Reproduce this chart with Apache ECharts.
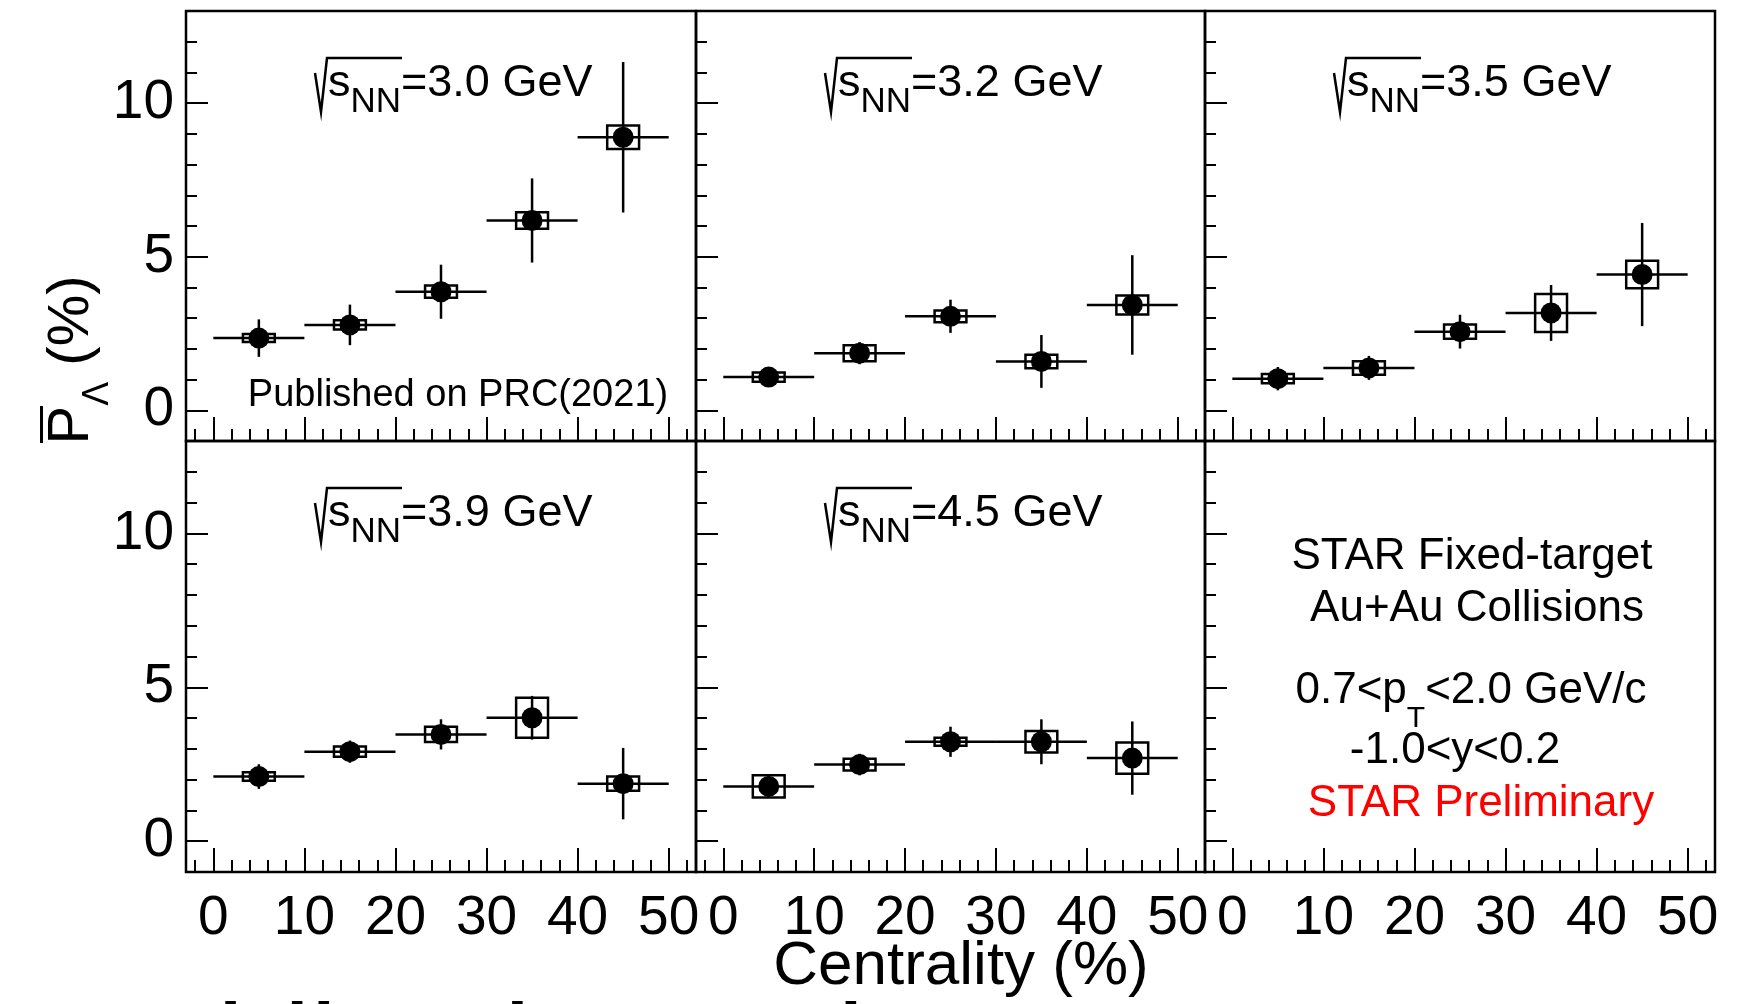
<!DOCTYPE html>
<html>
<head>
<meta charset="utf-8">
<title>Anti-Lambda polarization vs centrality</title>
<style>
    html, body { margin: 0; padding: 0; background: #fff; }
    #chart { width: 1761px; height: 1004px; }
</style>
<script src="https://cdn.jsdelivr.net/npm/echarts@6.0.0/dist/echarts.min.js"></script>
</head>
<body>
<div id="chart"></div>
<script>
// Centrality bins (%)
const binLow = [0, 10, 20, 30, 40];
const binHigh = [10, 20, 30, 40, 50];
const energies = ['3.0', '3.2', '3.5', '3.9', '4.5'];

// Polarization (%) with stat. and sys. errors, one set per energy
const pol30 = [2.35, 2.78, 3.86, 6.18, 8.89];
const stat30 = [0.61, 0.66, 0.88, 1.37, 2.45];
const sys30 = [0.13, 0.15, 0.20, 0.27, 0.38];

const pol32 = [1.08, 1.86, 3.06, 1.59, 3.43];
const stat32 = [0.32, 0.36, 0.54, 0.86, 1.62];
const sys32 = [0.15, 0.26, 0.19, 0.22, 0.31];

const pol35 = [1.03, 1.38, 2.56, 3.17, 4.42];
const stat35 = [0.38, 0.39, 0.55, 0.91, 1.68];
const sys35 = [0.15, 0.22, 0.23, 0.62, 0.45];

const pol39 = [2.10, 2.91, 3.47, 4.01, 1.87];
const stat39 = [0.40, 0.36, 0.49, 0.71, 1.16];
const sys39 = [0.14, 0.17, 0.25, 0.65, 0.23];

const pol45 = [1.78, 2.49, 3.23, 3.23, 2.70];
const stat45 = [0.34, 0.35, 0.49, 0.73, 1.19];
const sys45 = [0.36, 0.19, 0.13, 0.35, 0.51];

// Tick positions
const xMajorTicks = [0, 10, 20, 30, 40, 50];
const xMinorTicks = [-2, 0, 2, 4, 6, 8, 10, 12, 14, 16, 18, 20, 22, 24, 26, 28, 30, 32, 34, 36, 38, 40, 42, 44, 46, 48, 50, 52];
const yMajorTicks = [0, 5, 10];
const yMinorTicks = [0, 1, 2, 3, 4, 5, 6, 7, 8, 9, 10, 11, 12];

const panelPol = [pol30, pol32, pol35, pol39, pol45];
const panelStat = [stat30, stat32, stat35, stat39, stat45];
const panelSys = [sys30, sys32, sys35, sys39, sys45];

// Layout
const colLeft = [186, 696, 1205];
const colWidth = [510, 509, 510];
const rowTop = [11, 441];
const rowHeight = [430, 431];
const font = 'Liberation Sans, Arial, Helvetica, sans-serif';
const boxHalf = 1.75; // half width of the systematic box, in centrality units

const chart = echarts.init(document.getElementById('chart'), null, { renderer: 'canvas' });

function renderErrors(params, api) {
    const xc = api.value(0);
    const y = api.value(1);
    const stat = api.value(2);
    const sys = api.value(3);
    const left = api.coord([api.value(4), y]);
    const right = api.coord([api.value(5), y]);
    const top = api.coord([xc, y + stat]);
    const bottom = api.coord([xc, y - stat]);
    const b1 = api.coord([xc - boxHalf, y + sys]);
    const b2 = api.coord([xc + boxHalf, y - sys]);
    const lineStyle = { stroke: '#000', lineWidth: 2.5 };
    return {
        type: 'group',
        children: [
            { type: 'line', shape: { x1: left[0], y1: left[1], x2: right[0], y2: right[1] }, style: lineStyle },
            { type: 'line', shape: { x1: top[0], y1: top[1], x2: bottom[0], y2: bottom[1] }, style: lineStyle },
            {
                type: 'rect',
                shape: { x: b1[0], y: b1[1], width: b2[0] - b1[0], height: b2[1] - b1[1] },
                style: { stroke: '#000', lineWidth: 2.5, fill: 'none' }
            }
        ]
    };
}

const grids = [];
const xAxes = [];
const yAxes = [];
const series = [];
const graphics = [];

for (let i = 0; i < 6; i++) {
    const r = Math.floor(i / 3);
    const c = i % 3;
    grids.push({
        left: colLeft[c], top: rowTop[r], width: colWidth[c], height: rowHeight[r],
        containLabel: false, outerBoundsMode: 'none',
        show: true, borderColor: '#000', borderWidth: 2.5, backgroundColor: 'transparent'
    });

    const tickStyle = { color: '#000', width: 2 };
    // major x ticks + labels
    xAxes.push({
        type: 'value', gridIndex: i, position: 'bottom', min: -3, max: 53,
        axisLine: { show: false, onZero: false },
        splitLine: { show: false },
        axisTick: { show: true, inside: true, length: 24, customValues: xMajorTicks, lineStyle: tickStyle },
        axisLabel: {
            show: r === 1, customValues: xMajorTicks, margin: 19,
            fontSize: 55, color: '#000', fontFamily: font
        }
    });
    // minor x ticks
    xAxes.push({
        type: 'value', gridIndex: i, position: 'bottom', min: -3, max: 53,
        axisLine: { show: false, onZero: false },
        splitLine: { show: false },
        axisTick: { show: true, inside: true, length: 12, customValues: xMinorTicks, lineStyle: tickStyle },
        axisLabel: { show: false }
    });
    // major y ticks + labels
    yAxes.push({
        type: 'value', gridIndex: i, position: 'left', min: -1, max: 13,
        axisLine: { show: false, onZero: false },
        splitLine: { show: false },
        axisTick: { show: true, inside: true, length: 22, customValues: yMajorTicks, lineStyle: tickStyle },
        axisLabel: {
            show: c === 0, customValues: yMajorTicks, margin: 12,
            fontSize: 55, color: '#000', fontFamily: font
        }
    });
    // minor y ticks
    yAxes.push({
        type: 'value', gridIndex: i, position: 'left', min: -1, max: 13,
        axisLine: { show: false, onZero: false },
        splitLine: { show: false },
        axisTick: { show: true, inside: true, length: 11, customValues: yMinorTicks, lineStyle: tickStyle },
        axisLabel: { show: false }
    });

    if (i < 5) {
        const pts = binLow.map((lo, k) => {
            const hi = binHigh[k];
            return [(lo + hi) / 2, panelPol[i][k], panelStat[i][k], panelSys[i][k], lo, hi];
        });
        series.push({
            type: 'custom', name: energies[i] + ' errors',
            xAxisIndex: 2 * i, yAxisIndex: 2 * i,
            renderItem: renderErrors,
            data: pts, z: 2, silent: true
        });
        series.push({
            type: 'scatter', name: energies[i],
            xAxisIndex: 2 * i, yAxisIndex: 2 * i,
            symbol: 'circle', symbolSize: 21,
            itemStyle: { color: '#000', opacity: 1 },
            data: pts.map(p => [p[0], p[1]]), z: 5, silent: true
        });

        // sqrt(s_NN) label
        graphics.push({
            type: 'group', x: colLeft[c] + 129, y: rowTop[r] + 47,
            children: [
                {
                    type: 'polyline',
                    shape: { points: [[0, 15], [6, 54], [12, 0], [87, 0]] },
                    style: { stroke: '#000', lineWidth: 2.5, fill: null }
                },
                {
                    type: 'text', x: 13, y: 26,
                    style: {
                        text: '{m|s}{sub|NN}{m|=' + energies[i] + ' GeV}',
                        align: 'left', verticalAlign: 'middle',
                        rich: {
                            m: { fontSize: 45, lineHeight: 45, fontFamily: font, fill: '#000', verticalAlign: 'middle' },
                            sub: { fontSize: 35, lineHeight: 35, fontFamily: font, fill: '#000', padding: [23, 0, 0, 0], verticalAlign: 'top' }
                        }
                    }
                }
            ]
        });
    }
}

// text in the first panel
graphics.push({
    type: 'text', x: 458, y: 396,
    style: { text: 'Published on PRC(2021)', align: 'center', verticalAlign: 'middle', fontSize: 38, fontFamily: font, fill: '#000' }
});

// legend text in the empty panel
const infoLines = [
    { text: 'STAR Fixed-target', x: 1472, y: 557, color: '#000' },
    { text: 'Au+Au Collisions', x: 1477, y: 609, color: '#000' },
    { text: '-1.0<y<0.2', x: 1455, y: 751, color: '#000' },
    { text: 'STAR Preliminary', x: 1481, y: 804, color: '#ff0000' }
];
infoLines.forEach(l => {
    graphics.push({
        type: 'text', x: l.x, y: l.y,
        style: { text: l.text, align: 'center', verticalAlign: 'middle', fontSize: 44, fontFamily: font, fill: l.color }
    });
});
graphics.push({
    type: 'text', x: 1471, y: 691,
    style: {
        text: '{m|0.7<p}{sub|T}{m|<2.0 GeV/c}',
        align: 'center', verticalAlign: 'middle',
        rich: {
            m: { fontSize: 44, lineHeight: 44, fontFamily: font, fill: '#000', verticalAlign: 'middle' },
            sub: { fontSize: 30, lineHeight: 30, fontFamily: font, fill: '#000', padding: [35, 0, 0, 0], verticalAlign: 'top' }
        }
    }
});

// y axis title, rotated
graphics.push({
    type: 'group', x: 72, y: 360, rotation: Math.PI / 2,
    children: [
        {
            type: 'text', x: 0, y: 0,
            style: {
                text: '{m|P}{sub|Λ}{m| (%)}',
                align: 'center', verticalAlign: 'middle',
                rich: {
                    m: { fontSize: 58, lineHeight: 58, fontFamily: font, fill: '#000', verticalAlign: 'middle' },
                    sub: { fontSize: 36, lineHeight: 36, fontFamily: font, fill: '#000', padding: [37, 0, 0, 0], verticalAlign: 'top' }
                }
            }
        },
        { type: 'rect', shape: { x: -83, y: -32, width: 37, height: 3 }, style: { fill: '#000' } }
    ]
});

// x axis title
graphics.push({
    type: 'text', x: 961, y: 967,
    style: { text: 'Centrality (%)', align: 'center', verticalAlign: 'middle', fontSize: 62, fontFamily: font, fill: '#000' }
});

// slide heading cut off at the bottom edge
graphics.push({
    type: 'text', x: -3, y: 1055,
    style: { text: 'Rapidity dependence', align: 'left', verticalAlign: 'middle', fontSize: 120, fontFamily: font, fill: '#000' }
});

chart.setOption({
    animation: false,
    backgroundColor: '#fff',
    grid: grids,
    xAxis: xAxes,
    yAxis: yAxes,
    series: series,
    graphic: graphics
});
</script>
</body>
</html>
